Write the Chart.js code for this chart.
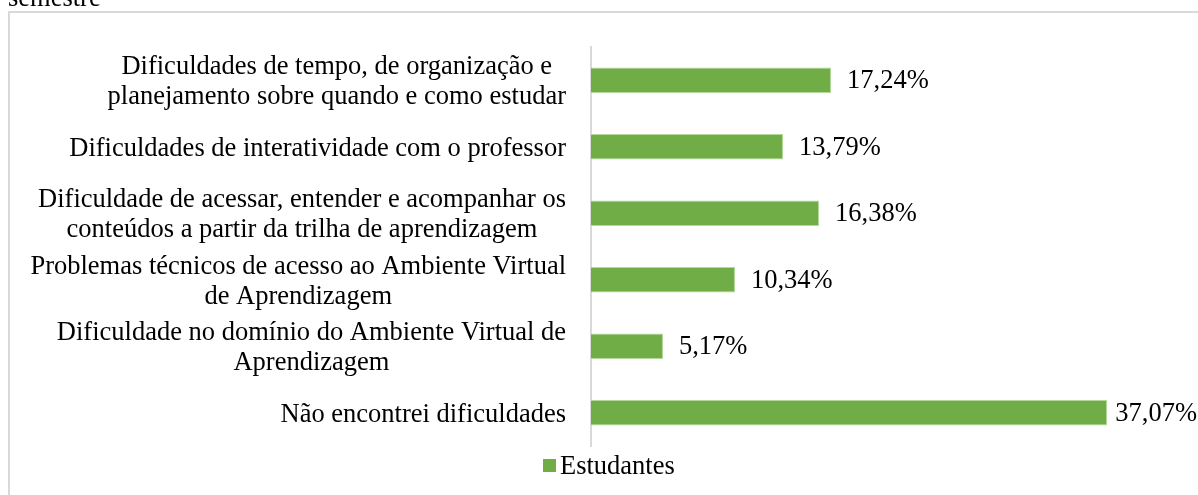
<!DOCTYPE html>
<html>
<head>
<meta charset="utf-8">
<script src="https://cdn.jsdelivr.net/npm/chart.js@4"></script>
<style>
html,body{margin:0;padding:0;background:#fff;overflow:hidden;}
#frame{position:absolute;left:8px;top:11px;width:1200px;height:500px;border:2px solid #d9d9d9;box-sizing:border-box;}
#wrap{position:absolute;left:0;top:0;width:1198px;height:495px;}
</style>
</head>
<body>
<div id="frame"></div>
<div id="wrap"><canvas id="c" width="1198" height="495"></canvas></div>
<script>
const categories = [
  ["Dificuldades de tempo, de organização e", "planejamento sobre quando e como estudar"],
  ["Dificuldades de interatividade com o professor"],
  ["Dificuldade de acessar, entender e acompanhar os", "conteúdos a partir da trilha de aprendizagem"],
  ["Problemas técnicos de acesso ao Ambiente Virtual", "de Aprendizagem"],
  ["Dificuldade no domínio do Ambiente Virtual de", "Aprendizagem"],
  ["Não encontrei dificuldades"]
];
const seriesName = "Estudantes";
const values = [17.24, 13.79, 16.38, 10.34, 5.17, 37.07];
const titleText = "semestre";

const FONT = '26.5px "Liberation Serif", "Times New Roman", serif';

const customDraw = {
  id: 'customDraw',
  afterDatasetsDraw(chart) {
    const ctx = chart.ctx;
    const ys = chart.scales.y;
    const meta = chart.getDatasetMeta(0);
    ctx.save();
    ctx.font = FONT;
    ctx.fillStyle = '#000';
    // value labels
    ctx.textAlign = 'left';
    ctx.textBaseline = 'middle';
    meta.data.forEach((bar, i) => {
      const t = values[i].toFixed(2).replace('.', ',') + '%';
      const w = ctx.measureText(t).width;
      const x = Math.min(bar.x + 16, chart.width - 1 - w);
      ctx.fillText(t, x, bar.y + 1);
    });
    // category labels: block right-aligned, lines centered
    const rightEdge = chart.chartArea.left - 25;
    const lh = 30;
    categories.forEach((lines, i) => {
      const y = ys.getPixelForValue(i) + 2;
      const widest = Math.max(...lines.map(l => ctx.measureText(l).width));
      const cx = rightEdge - widest / 2;
      ctx.textAlign = 'center';
      const y0 = y - (lines.length - 1) * lh / 2;
      lines.forEach((l, k) => ctx.fillText(l, cx, y0 + k * lh));
    });
    // legend
    const ds = chart.data.datasets[0];
    ctx.fillStyle = ds.backgroundColor;
    ctx.fillRect(543, 459, 13, 13);
    ctx.fillStyle = '#000';
    ctx.textAlign = 'left';
    ctx.fillText(ds.label, 560, 467);
    // cut-off title
    ctx.textBaseline = 'alphabetic';
    ctx.fillText(titleText, 8, 6);
    ctx.restore();
  }
};

new Chart(document.getElementById('c'), {
  type: 'bar',
  data: {
    labels: categories,
    datasets: [{
      label: seriesName,
      data: values,
      backgroundColor: '#70ad47',
      borderColor: '#b4d89c',
      borderWidth: 1,
      borderSkipped: 'left',
      categoryPercentage: 0.72,
      barPercentage: 0.53
    }]
  },
  options: {
    responsive: false,
    animation: false,
    indexAxis: 'y',
    layout: { padding: { left: 591, top: 47, bottom: 49, right: 50 } },
    plugins: { legend: { display: false }, tooltip: { enabled: false } },
    scales: {
      x: { display: false, min: 0, max: 40 },
      y: {
        display: true,
        ticks: { display: false },
        grid: { display: false, drawTicks: false },
        border: { display: true, color: '#d9d9d9', width: 2 },
        afterFit(s) { s.width = 0; }
      }
    }
  },
  plugins: [customDraw]
});
</script>
</body>
</html>
